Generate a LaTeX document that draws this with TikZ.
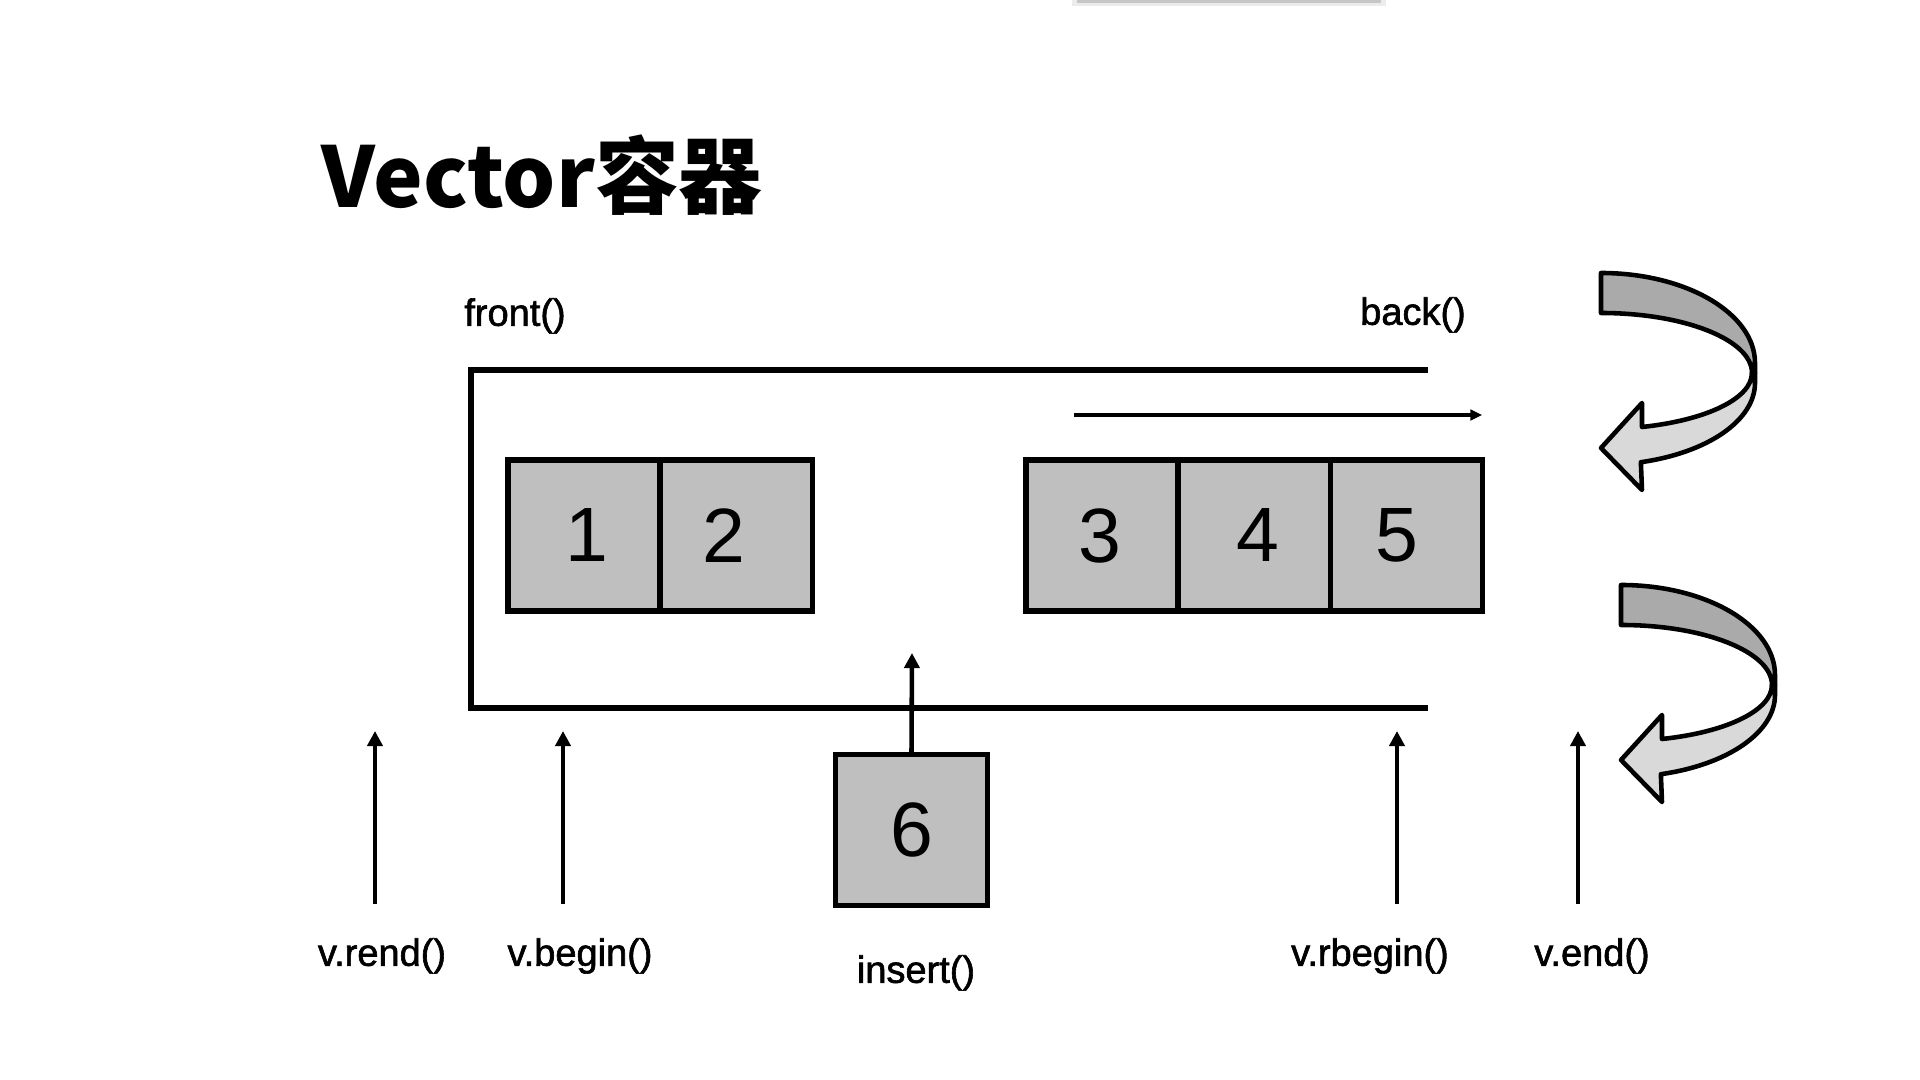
\documentclass[tikz,border=0pt]{standalone}
\usepackage{fontspec}
\setmainfont{Liberation Sans}
\newfontfamily\lblfont{Liberation Sans}[FakeBold=1.6]
\newfontfamily\cjk{Noto Sans CJK SC}
\usetikzlibrary{arrows.meta,positioning}

\definecolor{cellgray}{RGB}{191,191,191}
\definecolor{darkband}{RGB}{170,170,170}
\definecolor{lightband}{RGB}{217,217,217}

\begin{document}
\begin{tikzpicture}[x=0.01cm,y=-0.01cm,
  cell/.style={draw,line width=1.5pt,fill=cellgray,minimum width=1.52cm,
    minimum height=1.51cm,inner sep=0pt,outer sep=0pt,node distance=0pt,
    font=\fontsize{21.9}{26}\selectfont},
  lbl/.style={inner sep=0pt,font=\lblfont\fontsize{10.8}{13}\selectfont},
  ptr/.style={line width=1.3pt,-{Triangle[length=4.3pt,width=4.3pt]}},
  wall/.style={line width=1.8pt},
  band/.style={draw,line width=1.3pt,line join=round}]

  \useasboundingbox (0,0) rectangle (1920,1080);

  % shadow of a bar at the top edge
  \fill[gray!15] (1072,0) rectangle (1386,6);
  \fill[gray!45] (1077,0) rectangle (1381,3);

  \node[anchor=base west,inner sep=0pt,
    font=\cjk\bfseries\fontsize{23.8}{29}\selectfont] (title) at (321,208) {Vector容器};

  \node[lbl] (front) at (515,316) {front()};
  \node[lbl] (back) at (1413,315) {back()};

  % the container
  \draw[wall] (1428,370) -- (471,370) -- (471,708) -- (1428,708);

  \node[cell] (c1) at (584,535.5) {\kern1.5pt1};
  \node[cell,right=of c1] (c2) {\kern-6.8pt2};
  \node[cell] (c3) at (1102,535.5) {\kern-1.4pt3};
  \node[cell,right=of c3] (c4) {\kern2pt4};
  \node[cell,right=of c4] (c5) {\kern-5pt5};
  \node[cell] (c6) at (911.5,830) {6};

  \coordinate (go) at (1074,415);
  \draw[line width=.9pt,-{Triangle[length=3.4pt,width=3pt]}] (go) -- (go -| c5.east);

  \coordinate (gap) at (912,653);
  \draw[ptr] (c6.north) -- (gap);
  \node[lbl] (insert) at (916,973) {insert()};

  % iterators
  \node[lbl] (rend) at (382,956) {v.rend()};
  \node[lbl] (begin) at (580,956) {v.begin()};
  \node[lbl] (rbegin) at (1370,956) {v.rbegin()};
  \node[lbl] (vend) at (1592,956) {v.end()};
  \foreach \n/\x in {rend/375,begin/563,rbegin/1397,vend/1578}{
    \coordinate (\n foot) at (\x,904);
    \coordinate (\n tip) at (\x,731);
    \draw[ptr] (\n foot) -- (\n tip);
  }

  % turning arrows
  \foreach \dx/\dy in {0/0,20/312}{
    \begin{scope}[shift={(\dx,\dy)}]
      \draw[band,fill=darkband] (1601,273) arc[start angle=-90,end angle=0,x radius=154,y radius=90]
        -- (1755,373) -- (1752,373) arc[start angle=0,end angle=-90,x radius=151,y radius=60] -- cycle;
      \draw[band,fill=lightband] (1752,373) -- (1755,373) -- (1755,383)
        arc[start angle=0,end angle=75,x radius=154,y radius=82]
        -- (1642,490) -- (1601,448) -- (1642,403) -- (1642,427)
        arc[start angle=74.2,end angle=0,x radius=151,y radius=56] -- cycle;
    \end{scope}
  }
\end{tikzpicture}
\end{document}
